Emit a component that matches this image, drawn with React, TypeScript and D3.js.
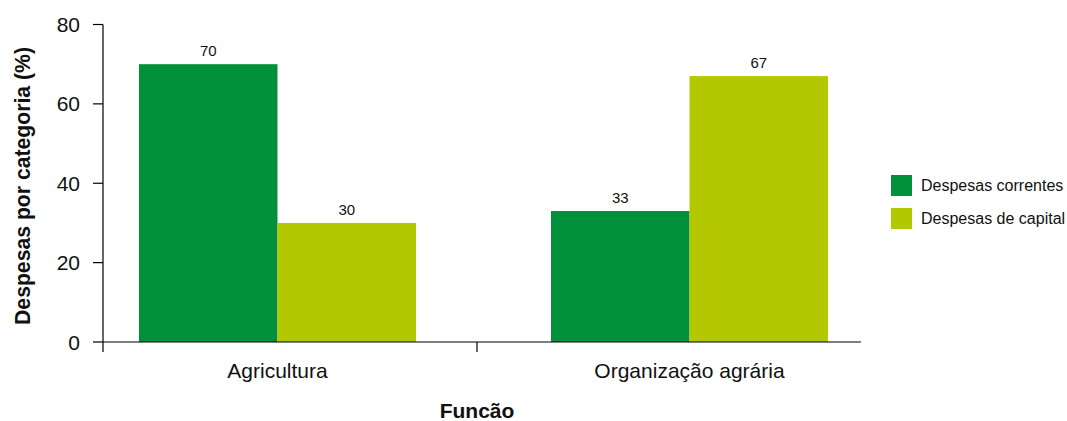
import React from "react";
import * as d3 from "d3";

const categories = ["Agricultura", "Organização agrária"];
const seriesNames = ["Despesas correntes", "Despesas de capital"];
const correntes = [70, 33];
const capital = [30, 67];
const yTicks = [0, 20, 40, 60, 80];
const colors = ["#00913A", "#B3C800"];

export default function App() {
  const W = 1067, H = 421;
  const y = d3.scaleLinear().domain([0, 80]).range([342, 24.5]);
  const x0 = d3.scaleBand<string>().domain(categories).range([71.5, 895.5]).paddingInner(0.3277).paddingOuter(0.1638);
  const x1 = d3.scaleBand<string>().domain(seriesNames).range([0, x0.bandwidth()]);
  const series = [correntes, capital];
  const font = "'Liberation Sans', Arial, Helvetica, sans-serif";
  const axisX0 = 103, axisX1 = 861, sep = 477;
  return (
    <svg width={W} height={H} style={{ position: "absolute", left: 0, top: 0 }} fontFamily={font}>
      {categories.map((c, i) =>
        seriesNames.map((s, j) => {
          const v = series[j][i];
          const bx = (x0(c) as number) + (x1(s) as number);
          return (
            <g key={c + s}>
              <rect x={bx} y={y(v)} width={x1.bandwidth()} height={y(0) - y(v)} fill={colors[j]} />
              <text x={bx + x1.bandwidth() / 2} y={y(v) - 8} textAnchor="middle" fontSize={15} fill="#111">{v}</text>
            </g>
          );
        })
      )}
      {/* y axis */}
      <line x1={axisX0} x2={axisX0} y1={y(80)} y2={352} stroke="#000" strokeWidth={1.2} />
      {yTicks.map(t => (
        <g key={t}>
          <line x1={93} x2={axisX0} y1={y(t)} y2={y(t)} stroke="#000" strokeWidth={1.2} />
          <text x={80} y={y(t)} dy="0.36em" textAnchor="end" fontSize={21} fill="#111">{t}</text>
        </g>
      ))}
      {/* x axis */}
      <line x1={axisX0} x2={axisX1} y1={y(0)} y2={y(0)} stroke="#000" strokeWidth={1.2} />
      <line x1={sep} x2={sep} y1={y(0)} y2={352} stroke="#000" strokeWidth={1.2} />
      {categories.map(c => (
        <text key={c} x={(x0(c) as number) + x0.bandwidth() / 2} y={378} textAnchor="middle" fontSize={21} fill="#111">{c}</text>
      ))}
      <text x={477} y={418} textAnchor="middle" fontSize={21} fontWeight="bold" fill="#111">Funcão</text>
      <text transform={`translate(30,186) rotate(-90)`} textAnchor="middle" fontSize={21.2} fontWeight="bold" fill="#111">Despesas por categoria (%)</text>
      {seriesNames.map((s, j) => (
        <g key={s}>
          <rect x={891} y={175 + j * 33} width={21} height={21} fill={colors[j]} />
          <text x={921} y={175 + j * 33 + 10.5} dy="0.36em" fontSize={16} fill="#111">{s}</text>
        </g>
      ))}
    </svg>
  );
}
